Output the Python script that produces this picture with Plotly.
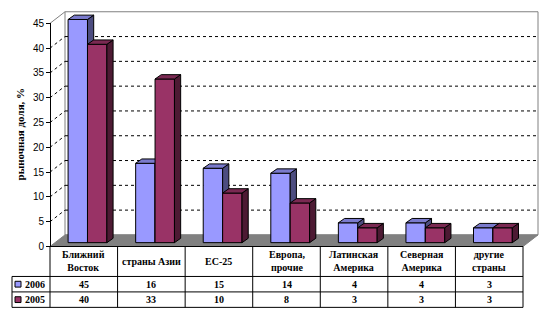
import plotly.graph_objects as go

# ---- data ----
categories = ["Ближний<br>Восток", "страны Азии", "ЕС-25", "Европа,<br>прочие",
              "Латинская<br>Америка", "Северная<br>Америка", "другие<br>страны"]
series_names = ["2006", "2005"]
values_2006 = [45, 16, 15, 14, 4, 4, 3]
values_2005 = [40, 33, 10, 8, 3, 3, 3]
y_ticks = [0, 5, 10, 15, 20, 25, 30, 35, 40, 45]
y_title = "рыночная доля, %"

# ---- styling ----
front_colors = ["#9999FF", "#993366"]
top_colors = ["#7A7ACC", "#7A2952"]
side_colors = ["#4D4D80", "#4D1A33"]
SERIF = "Liberation Serif"
SANS = "Liberation Sans"

# ---- geometry (pixels) ----
W, H = 554, 324
AX_LEFT, TABLE_RIGHT = 50, 523
N = len(categories)
COL = (TABLE_RIGHT - AX_LEFT) / N          # px per category
PXU = 231 / 45                              # px per value unit
FRONT_ZERO, BAR_ZERO, BACK_ZERO = 250, 246, 238
WALL_DX = 15
WALL_TOP = BACK_ZERO - 45 * PXU
BAR_OFF_PX, BAR_W_PX = -15.7, 19.4
SIDE_DX_PX, SIDE_DY_PX = 6.2, 4.5
ROW_LINES = [281, 297, 313]
LEG_LEFT = 12


def px(x):
    return x / W


def py(y):
    return 1 - y / H


x_range = [-0.5 - AX_LEFT / COL, -0.5 + (W - AX_LEFT) / COL]
y_range = [-(H - BAR_ZERO) / PXU, BAR_ZERO / PXU]

off = BAR_OFF_PX / COL
bw = BAR_W_PX / COL
ddx = SIDE_DX_PX / COL
ddy = SIDE_DY_PX / PXU

fig = go.Figure()

# 3D-looking columns: front, side and top faces per series
for s, vals in enumerate([values_2006, values_2005]):
    fx, fy, sx, sy, tx, ty = [], [], [], [], [], []
    for i, v in enumerate(vals):
        l = i + off + s * bw
        r = l + bw
        fx += [l, r, r, l, l, None]
        fy += [0, 0, v, v, 0, None]
        sx += [r, r + ddx, r + ddx, r, r, None]
        sy += [0, ddy, v + ddy, v, 0, None]
        tx += [l, r, r + ddx, l + ddx, l, None]
        ty += [v, v, v + ddy, v + ddy, v, None]
    for xs, ys, col in [(fx, fy, front_colors[s]), (sx, sy, side_colors[s]),
                        (tx, ty, top_colors[s])]:
        fig.add_trace(go.Scatter(
            x=xs, y=ys, mode="lines", fill="toself", fillcolor=col,
            line=dict(color="black", width=1), hoverinfo="skip",
            showlegend=False, name=series_names[s]))

# invisible trace carrying the value axis
fig.add_trace(go.Scatter(x=[0], y=[0], xaxis="x", yaxis="y2", mode="markers",
                         marker=dict(opacity=0), hoverinfo="skip", showlegend=False))

shapes = []
# back wall
shapes.append(dict(type="rect", xref="paper", yref="paper", layer="below",
                   x0=px(AX_LEFT + WALL_DX), x1=px(TABLE_RIGHT + WALL_DX),
                   y0=py(BACK_ZERO), y1=py(WALL_TOP),
                   line=dict(color="#808080", width=1), fillcolor="white"))
# left wall top edge
shapes.append(dict(type="line", xref="paper", yref="paper", layer="below",
                   x0=px(AX_LEFT), y0=py(FRONT_ZERO - 45 * PXU),
                   x1=px(AX_LEFT + WALL_DX), y1=py(WALL_TOP),
                   line=dict(color="#808080", width=1)))
# gridlines on back and side walls
for t in y_ticks[1:-1]:
    yb = BACK_ZERO - t * PXU
    yf = FRONT_ZERO - t * PXU
    shapes.append(dict(type="line", xref="paper", yref="paper", layer="below",
                       x0=px(AX_LEFT + WALL_DX), x1=px(TABLE_RIGHT + WALL_DX),
                       y0=py(yb), y1=py(yb),
                       line=dict(color="black", width=1, dash="3px,3px")))
    shapes.append(dict(type="line", xref="paper", yref="paper", layer="below",
                       x0=px(AX_LEFT), x1=px(AX_LEFT + WALL_DX),
                       y0=py(yf), y1=py(yb),
                       line=dict(color="black", width=1, dash="3px,3px")))
# floor
floor_path = "M {} {} L {} {} L {} {} L {} {} Z".format(
    px(AX_LEFT), py(FRONT_ZERO), px(TABLE_RIGHT), py(FRONT_ZERO),
    px(TABLE_RIGHT + WALL_DX), py(BACK_ZERO), px(AX_LEFT + WALL_DX), py(BACK_ZERO))
shapes.append(dict(type="path", xref="paper", yref="paper", layer="below",
                   path=floor_path, fillcolor="#808080",
                   line=dict(color="#808080", width=1)))

# data table grid
tline = dict(color="black", width=1)
shapes.append(dict(type="line", xref="paper", yref="paper", x0=px(AX_LEFT),
                   x1=px(TABLE_RIGHT), y0=py(FRONT_ZERO), y1=py(FRONT_ZERO), line=tline))
for yl in ROW_LINES:
    shapes.append(dict(type="line", xref="paper", yref="paper", x0=px(LEG_LEFT),
                       x1=px(TABLE_RIGHT), y0=py(yl), y1=py(yl), line=tline))
shapes.append(dict(type="line", xref="paper", yref="paper", x0=px(LEG_LEFT),
                   x1=px(LEG_LEFT), y0=py(ROW_LINES[0]), y1=py(ROW_LINES[-1]), line=tline))
for k in range(N + 1):
    xl = AX_LEFT + k * COL
    shapes.append(dict(type="line", xref="paper", yref="paper", x0=px(xl),
                       x1=px(xl), y0=py(FRONT_ZERO), y1=py(ROW_LINES[-1]), line=tline))

annotations = []
tfont = dict(family=SERIF, size=10, color="black", weight="bold")
header_mid = (FRONT_ZERO + ROW_LINES[0]) / 2
for k, cat in enumerate(categories):
    cx = AX_LEFT + (k + 0.5) * COL
    annotations.append(dict(xref="paper", yref="paper", x=px(cx), y=py(header_mid),
                            text=cat, showarrow=False, font=tfont,
                            xanchor="center", yanchor="middle"))
for s, vals in enumerate([values_2006, values_2005]):
    ymid = (ROW_LINES[s] + ROW_LINES[s + 1]) / 2
    for k, v in enumerate(vals):
        cx = AX_LEFT + (k + 0.5) * COL
        annotations.append(dict(xref="paper", yref="paper", x=px(cx), y=py(ymid),
                                text=str(v), showarrow=False, font=tfont,
                                xanchor="center", yanchor="middle"))
    # legend key
    shapes.append(dict(type="rect", xref="paper", yref="paper",
                       x0=px(15), x1=px(21), y0=py(ymid + 3), y1=py(ymid - 3),
                       fillcolor=front_colors[s], line=dict(color="black", width=1)))
    annotations.append(dict(xref="paper", yref="paper", x=px(23), y=py(ymid),
                            text=series_names[s], showarrow=False, font=tfont,
                            xanchor="left", yanchor="middle"))

annotations.append(dict(xref="paper", yref="paper", x=px(20), y=py(134),
                        text=y_title, textangle=-90, showarrow=False,
                        font=dict(family=SERIF, size=11, color="black", weight="bold"),
                        xanchor="center", yanchor="middle"))

fig.update_layout(
    width=W, height=H,
    margin=dict(l=0, r=0, t=0, b=0),
    paper_bgcolor="white", plot_bgcolor="rgba(0,0,0,0)",
    showlegend=False,
    xaxis=dict(range=x_range, visible=False, fixedrange=True),
    yaxis=dict(range=y_range, visible=False, fixedrange=True),
    yaxis2=dict(range=[0, 45], domain=[py(FRONT_ZERO), py(FRONT_ZERO - 45 * PXU)],
                anchor="free", position=px(AX_LEFT), side="left",
                tickvals=y_ticks, ticks="outside", ticklen=4, tickcolor="black",
                showline=True, linecolor="black", linewidth=1,
                showgrid=False, zeroline=False,
                tickfont=dict(family=SANS, size=10, color="black")),
    shapes=shapes,
    annotations=annotations,
)

fig.write_html("out.html")
